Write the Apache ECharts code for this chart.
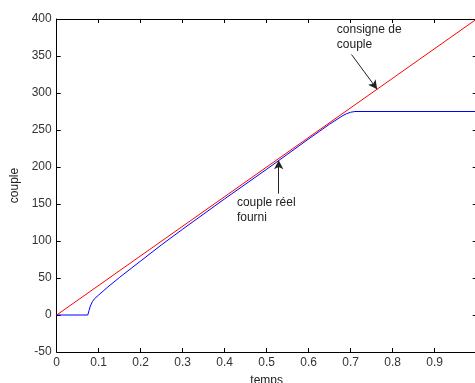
<!DOCTYPE html>
<html>
<head>
<meta charset="utf-8">
<script src="https://cdn.jsdelivr.net/npm/echarts@6/dist/echarts.min.js"></script>
<style>
  html, body { margin: 0; padding: 0; background: #fff; }
  #chart { width: 475px; height: 383px; }
</style>
</head>
<body>
<div id="chart"></div>
<script>
// Torque command (ramp) and delivered torque over time
const consigneT = [0, 1.0];
const consigneV = [0, 400];

const reelT = [0, 0.074, 0.077, 0.080, 0.085, 0.090, 0.100, 0.120, 0.150, 0.200, 0.250, 0.300, 0.400, 0.500, 0.600, 0.650, 0.680, 0.690, 0.700, 0.710, 1.0];
const reelV = [0, 0, 6, 12, 18, 22, 27, 37, 51, 73, 95, 116, 157, 197, 238, 258, 269, 272, 274, 275, 275];

const xTicks = ['0', '0.1', '0.2', '0.3', '0.4', '0.5', '0.6', '0.7', '0.8', '0.9'];
const yTicks = [-50, 0, 50, 100, 150, 200, 250, 300, 350, 400];

// Annotations: text anchor (top-left) and arrow from -> to, in data units
const noteConsigne = { text: 'consigne de\ncouple', at: [0.667, 396], from: [0.702, 352], to: [0.763, 305] };
const noteReel = { text: 'couple réel\nfourni', at: [0.429, 162], from: [0.5286, 164], to: [0.5286, 209] };

const zip = (a, b) => a.map((v, i) => [v, b[i]]);

const font = 'Arial, "Liberation Sans", sans-serif';
const labelStyle = { color: '#333', fontSize: 12, fontFamily: font };
const axisLine = { show: true, onZero: false, lineStyle: { color: '#000', width: 1 } };
const tickIn = { show: true, inside: true, length: 4, lineStyle: { color: '#000', width: 1 } };

function arrow(n) {
  return [{ coord: n.from }, { coord: n.to }];
}
function note(n) {
  return {
    coord: n.at,
    symbol: 'circle',
    symbolSize: 0,
    label: {
      show: true,
      formatter: n.text,
      position: [0, 0],
      align: 'left',
      verticalAlign: 'top',
      lineHeight: 15,
      color: '#222',
      fontSize: 12,
      fontFamily: font
    }
  };
}

const chart = echarts.init(document.getElementById('chart'), null, { renderer: 'canvas' });
chart.setOption({
  animation: false,
  backgroundColor: '#fff',
  grid: {
    left: 56.7, top: 19, width: 420, height: 333, show: false,
    containLabel: false, outerBoundsMode: 'none'
  },
  xAxis: [
    {
      type: 'value', min: 0, max: 1, interval: 0.1, position: 'bottom',
      axisLine: axisLine, axisTick: tickIn, splitLine: { show: false },
      axisLabel: Object.assign({ margin: 5, formatter: (v) => {
        const i = Math.round(v * 10);
        return i < xTicks.length ? xTicks[i] : '';
      } }, labelStyle),
      name: 'temps', nameLocation: 'middle', nameGap: 23,
      nameTextStyle: { color: '#222', fontSize: 12, fontFamily: font }
    },
    {
      type: 'value', min: 0, max: 1, interval: 0.1, position: 'top',
      axisLine: axisLine, axisTick: tickIn, axisLabel: { show: false }, splitLine: { show: false }
    }
  ],
  yAxis: [
    {
      type: 'value', min: yTicks[0], max: yTicks[yTicks.length - 1], interval: 50, position: 'left',
      axisLine: axisLine, axisTick: tickIn, splitLine: { show: false },
      axisLabel: Object.assign({ margin: 5 }, labelStyle),
      name: 'couple', nameLocation: 'middle', nameGap: 33, nameRotate: 90,
      nameTextStyle: { color: '#222', fontSize: 12, fontFamily: font }
    },
    {
      type: 'value', min: yTicks[0], max: yTicks[yTicks.length - 1], interval: 50, position: 'right',
      axisLine: axisLine, axisTick: tickIn, axisLabel: { show: false }, splitLine: { show: false }
    }
  ],
  series: [
    {
      name: 'consigne de couple', type: 'line', data: zip(consigneT, consigneV),
      showSymbol: false, lineStyle: { color: '#ff0000', width: 1 }, z: 3,
      markLine: {
        silent: true, symbol: ['none', 'arrow'], symbolSize: [7, 9],
        lineStyle: { color: '#222', width: 1, type: 'solid' },
        label: { show: false },
        data: [arrow(noteConsigne), arrow(noteReel)]
      },
      markPoint: { silent: true, data: [note(noteConsigne), note(noteReel)] }
    },
    {
      name: 'couple réel fourni', type: 'line', data: zip(reelT, reelV),
      showSymbol: false, smooth: false, lineStyle: { color: '#0000ff', width: 1 }, z: 2
    }
  ]
});
</script>
</body>
</html>
